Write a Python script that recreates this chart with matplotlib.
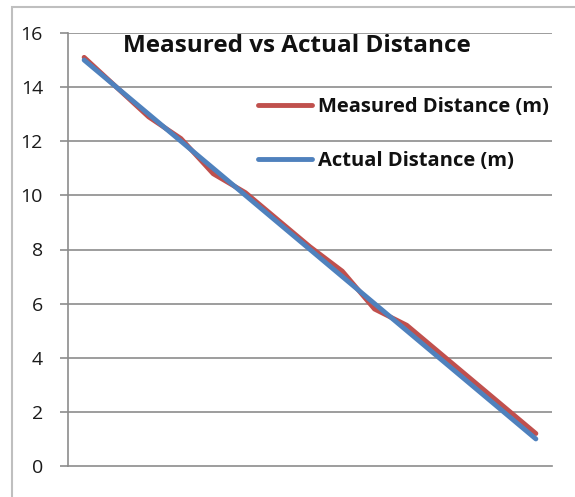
import matplotlib
matplotlib.use("Agg")
import matplotlib.pyplot as plt
from matplotlib.patches import Rectangle

title = "Measured vs Actual Distance"
series_names = ["Measured Distance (m)", "Actual Distance (m)"]
measured = [15.1, 14.0, 12.9, 12.1, 10.8, 10.1, 9.1, 8.1, 7.2, 5.8, 5.2, 4.2, 3.2, 2.2, 1.2]
actual = [15, 14, 13, 12, 11, 10, 9, 8, 7, 6, 5, 4, 3, 2, 1]
y_ticks = [0, 2, 4, 6, 8, 10, 12, 14, 16]

FONT = ["Open Sans", "DejaVu Sans"]
W, H = 575, 497
fig = plt.figure(figsize=(W / 100, H / 100), dpi=100)
fig.patch.set_facecolor("white")

# outer chart border (cropped at right/bottom)
fig.patches.append(Rectangle((12 / W, -0.05), 1.2, 1 - 7 / H + 0.05,
                             transform=fig.transFigure, fill=False,
                             edgecolor="#BFBFBF", linewidth=1.5))

ax = fig.add_axes([68 / W, 1 - 466 / H, (552 - 68) / W, (466 - 33) / H])
n = len(actual)
x = list(range(n))
grid_c = "#8C8C8C"
ax.plot(x, measured, color="#C0504D", linewidth=3.5, solid_capstyle="round",
        label=series_names[0], zorder=3)
ax.plot(x, actual, color="#4F81BD", linewidth=3.5, solid_capstyle="round",
        label=series_names[1], zorder=4)

ax.set_xlim(-0.5, n - 0.5)
ax.set_ylim(0, 16)
ax.set_yticks(y_ticks)
ax.set_yticklabels([str(v) for v in y_ticks], fontsize=14, family=FONT, color="#1a1a1a")
ax.set_xticks([])
for yv in y_ticks[1:]:
    ax.axhline(yv, color=grid_c, linewidth=1.2, zorder=1)
for s in ["top", "right"]:
    ax.spines[s].set_visible(False)
ax.spines["left"].set_color(grid_c)
ax.spines["left"].set_linewidth(1.2)
ax.spines["bottom"].set_color(grid_c)
ax.spines["bottom"].set_linewidth(1.2)
ax.tick_params(axis="y", length=6, width=1.2, color=grid_c, pad=12)

fig.text(297 / W, 1 - 46 / H, title, ha="center", va="center",
         fontsize=17.5, fontweight="bold", family=FONT, color="#111111")

leg = ax.legend(loc="upper left", bbox_to_anchor=((244 - 68) / (552 - 68), (466 - 82.5) / (466 - 33)),
                frameon=False, prop={"family": FONT, "weight": "bold", "size": 14.5},
                handlelength=2.7, handletextpad=0.25, labelspacing=1.7,
                borderaxespad=0.3)
for t in leg.get_texts():
    t.set_color("#111111")

fig.savefig("out.png", dpi=100)
